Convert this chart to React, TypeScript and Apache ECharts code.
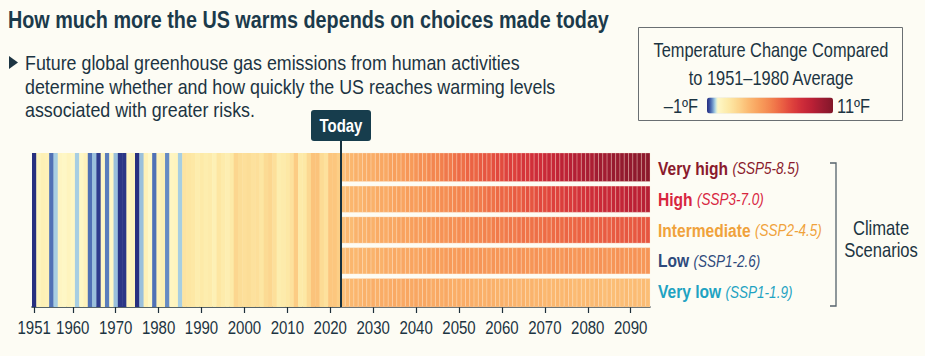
import React, { useEffect, useRef } from 'react';
import * as echarts from 'echarts';

const FONT = "'Liberation Sans', Arial, sans-serif";
const NARROW = 0.82;
const INK = '#1c3442';
const BG = '#fdfcf4';

const TITLE = 'How much more the US warms depends on choices made today';
const BULLET_LINES = [
  'Future global greenhouse gas emissions from human activities',
  'determine whether and how quickly the US reaches warming levels',
  'associated with greater risks.',
];
const LEGEND_TITLE = ['Temperature Change Compared', 'to 1951\u20131980 Average'];
const LEGEND_LOW = '\u20131\u00baF';
const LEGEND_HIGH = '11\u00baF';
const TODAY_LABEL = 'Today';
const TODAY_BOUNDARY = 2022.5;
const BRACKET_LABEL = ['Climate', 'Scenarios'];

const HIST_START_YEAR = 1951;
// 1951 - 2022, °F change vs 1951-1980
const HIST_VALUES = [
  -1.0, 0.3, 0.6, 0.5, -0.6, -0.25, 0.2, 0.1, 0.3, 0.1,
  -0.25, 0.1, 0.4, -0.6, -0.3, -0.9, 0.1, -0.55, 0.05, -0.3,
  -0.95, -0.95, 0.2, 0.3, -1.0, -0.3, 0.5, 0.0, -0.6, 0.4,
  0.6, -0.5, 0.2, 0.3, -0.25, 1.3, 1.2, 1.1, 0.8, 1.0,
  0.8, 0.9, 0.6, 1.2, 0.9, 0.7, 1.0, 1.9, 1.6, 1.5,
  1.6, 1.4, 1.5, 1.2, 1.7, 1.9, 1.5, 0.8, 0.9, 1.1,
  1.4, 2.3, 1.0, 1.1, 1.8, 2.6, 2.6, 1.7, 1.4, 2.5,
  2.5, 2.2,
];

const FUTURE_START_YEAR = 2023;
// 2023 - 2094 per scenario
const VERY_LOW = [
  2.7, 2.9, 3.0, 3.1, 3.1, 3.3, 3.2, 3.4,
  3.3, 3.5, 3.4, 3.5, 3.6, 3.5, 3.6, 3.7, 3.6, 3.7,
  3.6, 3.7, 3.6, 3.5, 3.6, 3.5, 3.6, 3.5, 3.4, 3.5,
  3.4, 3.5, 3.4, 3.3, 3.4, 3.3, 3.4, 3.3, 3.2, 3.3,
  3.2, 3.3, 3.2, 3.1, 3.2, 3.1, 3.2, 3.1, 3.2, 3.0,
  3.1, 3.0, 3.1, 3.0, 3.1, 3.0, 2.9, 3.0, 2.9, 3.0,
  2.9, 3.0, 2.9, 2.8, 2.9, 2.8, 2.9, 2.8, 2.9, 2.8,
  2.9, 2.8, 2.9, 2.8,
];
const LOW = [
  2.7, 2.9, 3.1, 3.0, 3.2, 3.1, 3.3, 3.2,
  3.4, 3.3, 3.5, 3.4, 3.6, 3.5, 3.7, 3.6, 3.8, 3.7,
  3.9, 3.8, 4.0, 3.9, 4.1, 4.0, 4.1, 4.2, 4.1, 4.2,
  4.3, 4.2, 4.3, 4.2, 4.4, 4.3, 4.2, 4.4, 4.3, 4.4,
  4.3, 4.4, 4.3, 4.5, 4.4, 4.3, 4.4, 4.5, 4.4, 4.3,
  4.4, 4.5, 4.4, 4.3, 4.5, 4.4, 4.3, 4.4, 4.5, 4.4,
  4.3, 4.4, 4.5, 4.4, 4.3, 4.4, 4.5, 4.4, 4.3, 4.4,
  4.5, 4.4, 4.3, 4.4,
];
const INTERMEDIATE = [
  2.7, 3.0, 2.9, 3.2, 3.3, 3.2, 3.4, 3.3,
  3.5, 3.6, 3.5, 3.7, 3.6, 3.8, 3.9, 3.8, 4.0, 4.1,
  4.0, 4.2, 4.3, 4.2, 4.4, 4.5, 4.4, 4.6, 4.5, 4.7,
  4.8, 4.7, 4.9, 5.0, 4.9, 5.1, 5.0, 5.2, 5.3, 5.2,
  5.3, 5.4, 5.3, 5.5, 5.6, 5.5, 5.6, 5.7, 5.6, 5.8,
  5.7, 5.8, 5.9, 5.8, 6.0, 5.9, 6.0, 6.1, 6.0, 6.1,
  6.2, 6.1, 6.2, 6.3, 6.2, 6.3, 6.4, 6.3, 6.4, 6.3,
  6.4, 6.5, 6.4, 6.5,
];
const HIGH = [
  2.7, 2.9, 3.1, 3.2, 3.1, 3.3, 3.4, 3.3,
  3.5, 3.6, 3.5, 3.7, 3.8, 3.9, 3.8, 4.0, 4.1, 4.0,
  4.2, 4.3, 4.4, 4.3, 4.5, 4.7, 4.6, 4.8, 4.9, 5.0,
  5.1, 5.0, 5.2, 5.4, 5.3, 5.5, 5.7, 5.6, 5.8, 6.0,
  5.9, 6.1, 6.3, 6.2, 6.4, 6.6, 6.5, 6.7, 6.9, 6.8,
  7.0, 7.2, 7.1, 7.3, 7.5, 7.4, 7.6, 7.8, 7.7, 7.9,
  8.1, 8.0, 8.2, 8.4, 8.3, 8.5, 8.7, 8.6, 8.8, 8.9,
  9.0, 8.9, 9.1, 9.2,
];
const VERY_HIGH = [
  2.7, 3.0, 3.1, 3.3, 3.2, 3.4, 3.5, 3.4,
  3.6, 3.7, 3.6, 3.9, 4.0, 3.9, 4.1, 4.3, 4.2, 4.4,
  4.6, 4.5, 4.8, 5.0, 4.9, 5.2, 5.4, 5.3, 5.6, 5.8,
  5.7, 6.0, 6.1, 6.0, 6.3, 6.5, 6.4, 6.7, 6.9, 6.8,
  7.1, 7.3, 7.2, 7.5, 7.7, 7.6, 7.9, 8.1, 8.0, 8.3,
  8.5, 8.4, 8.7, 8.9, 8.8, 9.1, 9.3, 9.2, 9.5, 9.6,
  9.5, 9.8, 9.9, 9.8, 10.0, 10.2, 10.1, 10.3, 10.4, 10.3,
  10.5, 10.6, 10.5, 10.7,
];

const TICK_YEARS = [1951, 1960, 1970, 1980, 1990, 2000, 2010, 2020, 2030, 2040, 2050, 2060, 2070, 2080, 2090];

// bottom to top
const SCENARIO_NAMES = ['Very low', 'Low', 'Intermediate', 'High', 'Very high'];
const SCENARIO_CODES = ['SSP1-1.9', 'SSP1-2.6', 'SSP2-4.5', 'SSP3-7.0', 'SSP5-8.5'];
const SCENARIO_SERIES = [VERY_LOW, LOW, INTERMEDIATE, HIGH, VERY_HIGH];
const SCENARIO_COLORS = ['#1fa3c2', '#2e4a7c', '#f0a23b', '#d8263f', '#8a1a2c'];

const COLOR_MIN = -1;
const COLOR_MAX = 11;
const COLOR_STOPS: [number, string][] = [
  [-1, '#28307f'], [-0.8, '#34489a'], [-0.6, '#5071b5'], [-0.4, '#7ea5d0'], [-0.2, '#b5dbe8'],
  [0, '#fef8c8'], [1, '#fdeaa8'], [2, '#fcd48c'], [3, '#fbb870'], [4, '#f89f5c'],
  [5, '#f3854f'], [6, '#ec6544'], [7, '#e0453d'], [8, '#cf2d39'], [9, '#bb2035'],
  [10, '#9c1b31'], [11, '#821729'],
];

function buildPalette(): string[] {
  const out: string[] = [];
  const n = 240;
  for (let i = 0; i <= n; i++) {
    const v = COLOR_MIN + ((COLOR_MAX - COLOR_MIN) * i) / n;
    let k = 0;
    while (k < COLOR_STOPS.length - 2 && v > COLOR_STOPS[k + 1][0]) k++;
    const [v0, c0] = COLOR_STOPS[k];
    const [v1, c1] = COLOR_STOPS[k + 1];
    const t = Math.min(1, Math.max(0, (v - v0) / (v1 - v0)));
    out.push(echarts.color.lerp(t, [c0, c1]) as string);
  }
  return out;
}

const ROW_GAP = 4.6;

function narrowText(x: number, y: number, text: string, size: number, opts: any = {}) {
  return {
    type: 'text',
    x, y,
    scaleX: opts.scale ?? NARROW,
    z: opts.z ?? 10,
    style: {
      text,
      fontFamily: FONT,
      fontSize: size,
      fontWeight: opts.weight ?? 'normal',
      fill: opts.fill ?? INK,
      align: opts.align ?? 'left',
      verticalAlign: 'middle',
      ...(opts.rich ? { rich: opts.rich } : {}),
    },
  };
}

type Layout = {
  todayX: number;
  yBottom: number;
  tickXs: number[];
  rowYs: number[];
  rightX: number;
};

function buildOption(layout: Layout | null): any {
  const data: number[][] = [];
  HIST_VALUES.forEach((v, i) => data.push([HIST_START_YEAR + i, 0, 5, v]));
  SCENARIO_SERIES.forEach((arr, r) => arr.forEach((v, i) => data.push([FUTURE_START_YEAR + i, r, r + 1, v])));
  const lastYear = FUTURE_START_YEAR + VERY_HIGH.length - 1;

  const graphics: any[] = [
    narrowText(8, 20.5, TITLE, 23, { weight: 'bold', fill: '#1b3a4b', scale: 0.86 }),
    { type: 'polygon', shape: { points: [[9, 56], [18, 62.5], [9, 69]] }, style: { fill: INK } },
    ...BULLET_LINES.map((t, i) => narrowText(25, 62.5 + i * 23.5, t, 21, { scale: 0.85 })),
    { type: 'rect', shape: { x: 638.5, y: 27.5, width: 264, height: 93 }, style: { fill: 'none', stroke: '#6a6f72', lineWidth: 1 } },
    ...LEGEND_TITLE.map((t, i) => narrowText(771, 49.5 + i * 28, t, 20, { align: 'center' })),
    narrowText(698, 105.5, LEGEND_LOW, 20, { align: 'right' }),
    narrowText(837, 105.5, LEGEND_HIGH, 20, { align: 'left' }),
    { type: 'polyline', shape: { points: [[830, 163], [836, 163], [836, 306], [830, 306]] }, style: { stroke: '#55626b', lineWidth: 1.3, fill: 'none' } },
    ...BRACKET_LABEL.map((t, i) => narrowText(881, 228 + i * 22, t, 20, { align: 'center', scale: 0.83 })),
  ];

  if (layout) {
    const { todayX, yBottom, tickXs, rowYs, rightX } = layout;
    graphics.push(
      { type: 'line', z: 100, shape: { x1: todayX, y1: 141, x2: todayX, y2: yBottom }, style: { stroke: '#17323f', lineWidth: 2 } },
      { type: 'rect', z: 100, shape: { x: todayX - 30, y: 110, width: 60, height: 31, r: 3 }, style: { fill: '#173d4d' } },
      narrowText(todayX, 126, TODAY_LABEL, 18, { weight: 'bold', fill: '#ffffff', align: 'center', z: 101, scale: 0.83 }),
    );
    TICK_YEARS.forEach((yr, i) => {
      graphics.push(narrowText(tickXs[i], 328, String(yr), 19, { align: 'center', scale: 0.79 }));
    });
    SCENARIO_NAMES.forEach((name, i) => {
      const c = SCENARIO_COLORS[i];
      graphics.push(
        narrowText(rightX + 8, rowYs[i], `{n|${name}} {c|(${SCENARIO_CODES[i]})}`, 19, {
          rich: {
            n: { fontFamily: FONT, fontSize: 19, fontWeight: 'bold', fill: c, verticalAlign: 'bottom' },
            c: { fontFamily: FONT, fontSize: 16.5, fontStyle: 'italic', fill: c, verticalAlign: 'bottom', padding: [0, 0, 1, 0] },
          },
        }),
      );
    });
  }

  return {
    animation: false,
    backgroundColor: BG,
    textStyle: { fontFamily: FONT },
    grid: { left: 32, right: 275, top: 153, bottom: 49 },
    xAxis: {
      type: 'value',
      min: HIST_START_YEAR - 0.5,
      max: lastYear + 0.5,
      splitLine: { show: false },
      axisLine: { show: true, lineStyle: { color: '#1d2f3a', width: 1.5 } },
      axisTick: { show: true, customValues: TICK_YEARS, length: 6, lineStyle: { color: '#1d2f3a', width: 1.2 } },
      axisLabel: { show: false, customValues: TICK_YEARS },
    },
    yAxis: { type: 'value', min: 0, max: 5, show: false },
    visualMap: {
      type: 'continuous', min: COLOR_MIN, max: COLOR_MAX, dimension: 3, seriesIndex: 0,
      inRange: { color: buildPalette() },
      orient: 'horizontal', left: 707, top: 97.5, itemWidth: 16, itemHeight: 126, padding: 0,
      text: null, calculable: false, hoverLink: false, showLabel: false,
    },
    series: [
      {
        type: 'custom',
        encode: { x: 0, y: [1, 2] },
        data,
        renderItem: (params: any, api: any) => {
          const x = api.value(0);
          const y0 = api.value(1);
          const y1 = api.value(2);
          const p0 = api.coord([x - 0.5, y1]);
          const p1 = api.coord([x + 0.5, y0]);
          const future = y1 - y0 < 5;
          let top = p0[1];
          let bottom = p1[1];
          if (future) {
            if (y1 < 5) top += ROW_GAP / 2;
            if (y0 > 0) bottom -= ROW_GAP / 2;
          }
          return {
            type: 'rect',
            shape: { x: p0[0], y: top, width: p1[0] - p0[0] + (future ? 0 : 0.4), height: bottom - top },
            style: future
              ? { fill: api.visual('color'), stroke: 'rgba(255,238,215,0.45)', lineWidth: 0.6 }
              : { fill: api.visual('color') },
          };
        },
      },
    ],
    graphic: graphics,
  };
}

export default function App() {
  const ref = useRef<HTMLDivElement>(null);
  useEffect(() => {
    document.body.style.margin = '0';
    document.body.style.background = BG;
    const chart = echarts.init(ref.current!, undefined, { renderer: 'svg' });
    chart.setOption(buildOption(null));
    const px = (v: number) => chart.convertToPixel({ xAxisIndex: 0 }, v) as number;
    const py = (v: number) => chart.convertToPixel({ yAxisIndex: 0 }, v) as number;
    const layout: Layout = {
      todayX: px(TODAY_BOUNDARY),
      yBottom: py(0),
      tickXs: TICK_YEARS.map(px),
      rowYs: SCENARIO_NAMES.map((_, i) => py(i + 0.5)),
      rightX: px(FUTURE_START_YEAR + VERY_HIGH.length - 0.5),
    };
    chart.setOption(buildOption(layout), { notMerge: true });
    return () => chart.dispose();
  }, []);
  return <div ref={ref} style={{ position: 'fixed', left: 0, top: 0, width: 925, height: 356 }} />;
}
